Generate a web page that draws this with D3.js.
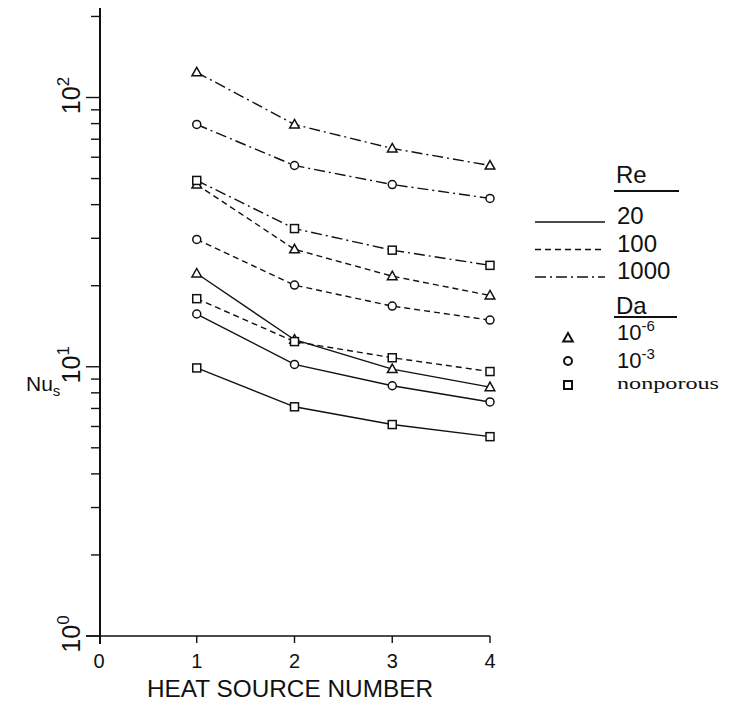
<!DOCTYPE html>
<html>
<head>
<script type="text/javascript" src="https://d3js.org/d3.v7.min.js"></script>
<title>Nu_s vs heat source number</title>
<style>
body { margin:0; background:#fff; }
text { font-family: "Liberation Sans", "DejaVu Sans", sans-serif; fill:#111; }
</style>
</head>
<body>
<div id="chart"></div>

<script type="text/javascript">
(function(){

// heat source numbers and Nu_s values
var sources = [1, 2, 3, 4];
var xTicks = [0, 1, 2, 3, 4];
var yMajor = [1, 10, 100];
var yExp = ["0", "1", "2"];

var re20_da6   = [22.2, 12.6, 9.8, 8.4];
var re20_da3   = [15.7, 10.2, 8.5, 7.4];
var re20_np    = [9.9, 7.1, 6.1, 5.5];
var re100_da6  = [47.5, 27.3, 21.7, 18.4];
var re100_da3  = [29.7, 20.1, 16.8, 14.9];
var re100_np   = [17.9, 12.4, 10.8, 9.6];
var re1000_da6 = [124, 79.4, 64.7, 55.9];
var re1000_da3 = [79.4, 55.9, 47.5, 42.2];
var re1000_np  = [49.2, 32.6, 27.1, 23.8];

var reLabels = ["20", "100", "1000"];
var daLabels = ["10", "10", "nonporous"];
var daExp = ["-6", "-3", ""];

var w = 736, h = 702;
var dashes = {"20": null, "100": "6,4", "1000": "11,4,2,4"};

var series = [
  {re:"20",   mk:"tri", v:re20_da6},
  {re:"20",   mk:"circ", v:re20_da3},
  {re:"20",   mk:"sq", v:re20_np},
  {re:"100",  mk:"tri", v:re100_da6},
  {re:"100",  mk:"circ", v:re100_da3},
  {re:"100",  mk:"sq", v:re100_np},
  {re:"1000", mk:"tri", v:re1000_da6},
  {re:"1000", mk:"circ", v:re1000_da3},
  {re:"1000", mk:"sq", v:re1000_np}
];

var svg = d3.select("#chart").append("svg")
   .attr("width", w).attr("height", h);

var x = d3.scaleLinear().domain([0, 4]).range([99, 490]);
var y = d3.scaleLog().domain([1, 215]).range([636, 8]);

// axes
var ax = svg.append("g").attr("stroke", "#111").attr("fill", "none");
ax.append("line").attr("x1", 100).attr("x2", 100)
  .attr("y1", y.range()[1]).attr("y2", 644).attr("stroke-width", 2);
ax.append("line").attr("x1", 86).attr("x2", x(4))
  .attr("y1", y(1)).attr("y2", y(1)).attr("stroke-width", 1.6);

// y ticks, minor 2..9 each decade
var yt = [];
[1, 10, 100].forEach(function(d){ for (var k=1; k<10; k++) if (d*k <= 215) yt.push(d*k); });
ax.selectAll(".yt").data(yt).enter().append("line")
  .attr("x1", function(d){ return yMajor.indexOf(d) >= 0 ? 86 : 91; })
  .attr("x2", 100)
  .attr("y1", function(d){ return y(d); })
  .attr("y2", function(d){ return y(d); })
  .attr("stroke-width", 1.4);

ax.selectAll(".xt").data(xTicks.slice(1)).enter().append("line")
  .attr("x1", function(d){ return x(d); }).attr("x2", function(d){ return x(d); })
  .attr("y1", y(1)).attr("y2", y(1) + 7).attr("stroke-width", 1.4);

svg.selectAll(".xl").data(xTicks).enter().append("text")
  .attr("x", function(d){ return x(d); })
  .attr("y", 668).attr("text-anchor", "middle")
  .attr("font-size", 20).text(function(d){ return d; });

svg.append("text").attr("x", 147).attr("y", 697)
  .attr("font-size", 24).attr("textLength", 286)
  .attr("lengthAdjust", "spacingAndGlyphs")
  .text("HEAT SOURCE NUMBER");

// rotated decade labels
yMajor.forEach(function(d, i){
  var t = svg.append("text")
    .attr("transform", "translate(80," + (y(d) - 2) + ") rotate(-90)")
    .attr("text-anchor", "middle").attr("font-size", 25);
  t.append("tspan").text("10");
  t.append("tspan").attr("dy", -11).attr("font-size", 17).text(yExp[i]);
});

var nu = svg.append("text").attr("x", 26).attr("y", 391).attr("font-size", 21);
nu.append("tspan").text("Nu");
nu.append("tspan").attr("dy", 5).attr("font-size", 15).text("s");

// series lines
var line = d3.line()
  .x(function(d, i){ return x(sources[i]); })
  .y(function(d){ return y(d); });

svg.selectAll(".ser").data(series).enter().append("path")
  .attr("d", function(s){ return line(s.v); })
  .attr("fill", "none").attr("stroke", "#111").attr("stroke-width", 1.4)
  .attr("stroke-dasharray", function(s){ return dashes[s.re]; });

var triPath = "M0,-5L4.8,3.5L-4.8,3.5Z";
function drawMarker(g, mk) {
  if (mk === "tri") g.append("path").attr("d", triPath);
  else if (mk === "circ") g.append("circle").attr("r", 4);
  else g.append("rect").attr("x", -4).attr("y", -4).attr("width", 8).attr("height", 8);
}

series.forEach(function(s){
  s.v.forEach(function(v, i){
    var g = svg.append("g")
      .attr("transform", "translate(" + x(sources[i]) + "," + y(v) + ")")
      .attr("fill", "#fff").attr("stroke", "#111").attr("stroke-width", 1.5);
    drawMarker(g, s.mk);
  });
});

// legend
var lg = svg.append("g");
lg.append("text").attr("x", 616).attr("y", 183).attr("font-size", 24).text("Re");
lg.append("line").attr("x1", 614).attr("x2", 679).attr("y1", 191).attr("y2", 191)
  .attr("stroke", "#111").attr("stroke-width", 1.8);
reLabels.forEach(function(r, i){
  var yy = 222 + i * 27.5;
  lg.append("line").attr("x1", 535).attr("x2", 605).attr("y1", yy).attr("y2", yy)
    .attr("stroke", "#111").attr("stroke-width", 1.4)
    .attr("stroke-dasharray", dashes[r]);
  lg.append("text").attr("x", 617).attr("y", yy + 2).attr("font-size", 24).text(r);
});

lg.append("text").attr("x", 616).attr("y", 314).attr("font-size", 24).text("Da");
lg.append("line").attr("x1", 614).attr("x2", 677).attr("y1", 317).attr("y2", 317)
  .attr("stroke", "#111").attr("stroke-width", 1.8);
var mks = ["tri", "circ", "sq"];
var daBase = [340, 368, 389];
daLabels.forEach(function(d, i){
  var yy = [338, 361, 385][i];
  var g = lg.append("g").attr("transform", "translate(568," + yy + ")")
    .attr("fill", "#fff").attr("stroke", "#111").attr("stroke-width", 2);
  drawMarker(g, mks[i]);
  if (daExp[i]) {
    var t = lg.append("text").attr("x", 617).attr("y", daBase[i]).attr("font-size", 22);
    t.append("tspan").text(d);
    t.append("tspan").attr("dy", -9).attr("font-size", 15).text(daExp[i]);
  } else {
    lg.append("text").attr("x", 617).attr("y", daBase[i]).attr("font-size", 17)
      .style("font-family", "'Liberation Serif', 'DejaVu Serif', serif")
      .attr("textLength", 102).attr("lengthAdjust", "spacingAndGlyphs")
      .text(d);
  }
});

})();
</script>
</body></html>
